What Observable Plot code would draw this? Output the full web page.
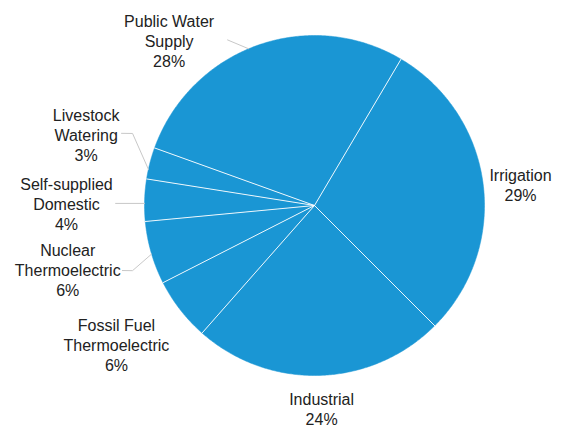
<!DOCTYPE html>
<html><head><meta charset="utf-8">
<script src="https://cdn.jsdelivr.net/npm/d3@7"></script>
<script src="https://cdn.jsdelivr.net/npm/@observablehq/plot@0.6"></script>
<style>
html,body{margin:0;padding:0;background:#fff;}
#chart svg{display:block;}
</style>
</head><body><div id="chart"></div>
<script>
// ---- data ----
const categories = ["Irrigation", "Industrial", "Fossil Fuel Thermoelectric", "Nuclear Thermoelectric", "Self-supplied Domestic", "Livestock Watering", "Public Water Supply"];
const shares = [29, 24, 6, 6, 4, 3, 28];
const labelLines = ["Irrigation", "Industrial", "Fossil Fuel\nThermoelectric", "Nuclear\nThermoelectric", "Self-supplied\nDomestic", "Livestock\nWatering", "Public Water\nSupply"];
const startAngleDeg = 30.6;

// ---- layout (polar: degrees clockwise from 12 o'clock, distance in pie radii) ----
const W = 564, H = 427, R = 170, CX = 314, CY = 205;
const labelPlacement = [[84.2, 1.218], [178.0, 1.196], [234.9, 1.424], [255.4, 1.500], [270.5, 1.459], [287.2, 1.406], [318.6, 1.293]];
const leaderPaths = {
  "Public Water Supply": [[337.2, 1.0], [332.3, 1.10]],
  "Livestock Watering": [[282.3, 1.0], [291.6, 1.151], [290.5, 1.212]],
  "Self-supplied Domestic": [[270.7, 1.0], [270.6, 1.17]],
  "Nuclear Thermoelectric": [[253.4, 1.0], [250.3, 1.137], [251.3, 1.193]]
};
const rad = d => d * Math.PI / 180;
const polar = (a, r) => ({x: r * Math.sin(rad(a)), y: r * Math.cos(rad(a))});

const rows = categories.map((name, i) => ({name, share: shares[i], label: labelLines[i] + "\n" + shares[i] + "%"}));
const pie = d3.pie().sort(null).value(d => d.share)
  .startAngle(rad(startAngleDeg)).endAngle(rad(startAngleDeg) + 2 * Math.PI);
const arcs = pie(rows);

const slicePts = arcs.flatMap(a => {
  const name = a.data.name;
  const n = Math.max(2, Math.ceil((a.endAngle - a.startAngle) / (Math.PI / 360)));
  const pts = [{name, x: 0, y: 0}];
  for (let i = 0; i <= n; i++) {
    const t = a.startAngle + (a.endAngle - a.startAngle) * i / n;
    pts.push({name, x: Math.sin(t), y: Math.cos(t)});
  }
  return pts;
});
const separators = arcs.flatMap(a => [
  {name: a.data.name, x: 0, y: 0},
  {name: a.data.name, x: Math.sin(a.startAngle), y: Math.cos(a.startAngle)}
]);

const labels = rows.map((d, i) => ({...d, ...polar(labelPlacement[i][0], labelPlacement[i][1])}));
const leaders = Object.entries(leaderPaths).flatMap(([name, pts]) => pts.map(([a, r]) => ({name, ...polar(a, r)})));

const font = "Helvetica, Arial, 'Liberation Sans', sans-serif";
const chart = Plot.plot({
  width: W, height: H,
  margin: 0,
  style: {fontFamily: font, background: "#fff"},
  x: {domain: [-CX / R, (W - CX) / R], axis: null},
  y: {domain: [-(H - CY) / R, CY / R], axis: null},
  marks: [
    Plot.line(slicePts, {x: "x", y: "y", z: "name", fill: "#1a96d4", stroke: "#1a96d4", strokeWidth: 0.5}),
    Plot.line(separators, {x: "x", y: "y", z: "name", stroke: "white", strokeWidth: 1, strokeOpacity: 0.9}),
    Plot.line(leaders, {x: "x", y: "y", z: "name", stroke: "#c8c8c8", strokeWidth: 1}),
    Plot.text(labels, {x: "x", y: "y", text: "label", fontSize: 16, lineHeight: 1.25, fill: "#222", fontFamily: font})
  ]
});
document.getElementById("chart").appendChild(chart);
</script>
</body></html>
